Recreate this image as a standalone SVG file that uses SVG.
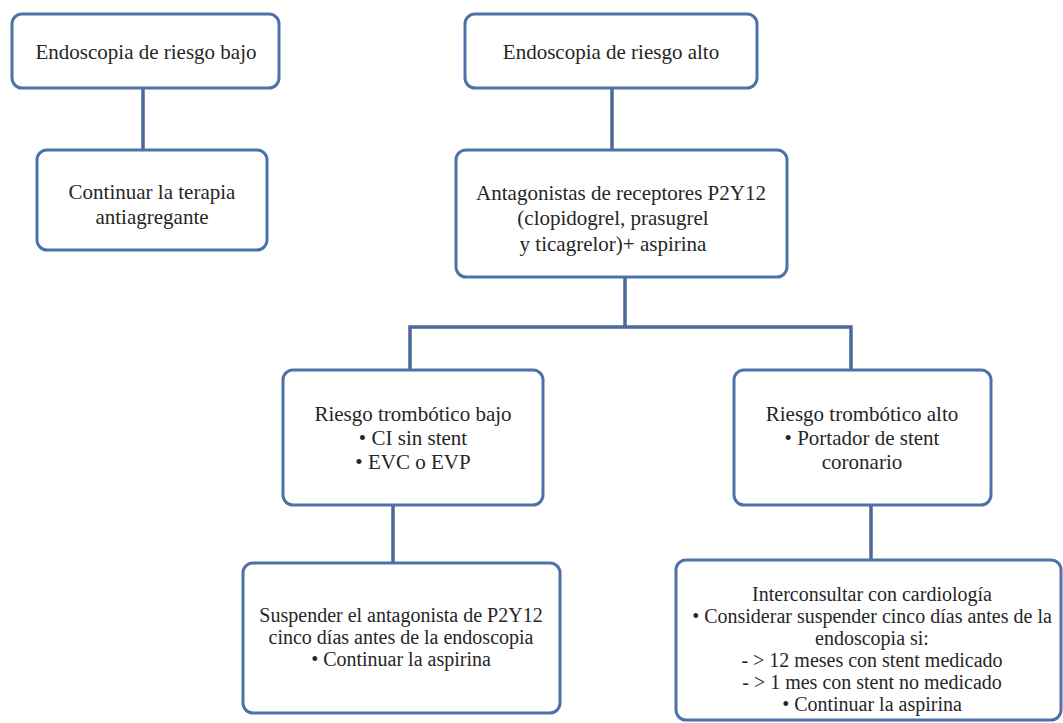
<svg xmlns="http://www.w3.org/2000/svg" width="1063" height="723" viewBox="0 0 1063 723">
<style>
.box{fill:#ffffff;stroke:#4E72A8;stroke-width:3}
.t{font-family:"Liberation Serif","Times New Roman",serif;font-size:21px;fill:#262626;text-anchor:middle}
.s{font-size:20px}
.c{stroke:#4A6898;stroke-width:3.5;fill:none}
</style>
<rect width="1063" height="723" fill="#ffffff"/>
<g id="connectors">
<path class="c" d="M143,88 V150"/>
<path class="c" d="M612,88 V150"/>
<path class="c" d="M625,277 V327"/>
<path class="c" d="M410,370 V327 H851 V370"/>
<path class="c" d="M393,505 V563"/>
<path class="c" d="M871,505 V560"/>
</g>
<g id="n1">
<rect class="box" x="12" y="14" width="267" height="74" rx="10"/>
<text class="t" x="146" y="59">Endoscopia de riesgo bajo</text>
</g>
<g id="n2">
<rect class="box" x="37" y="150" width="230" height="100" rx="10"/>
<text class="t" x="152" y="199">Continuar la terapia</text>
<text class="t" x="152" y="224">antiagregante</text>
</g>
<g id="n3">
<rect class="box" x="465" y="14" width="292" height="74" rx="10"/>
<text class="t" x="611" y="59">Endoscopia de riesgo alto</text>
</g>
<g id="n4">
<rect class="box" x="456" y="150" width="331" height="127" rx="10"/>
<text class="t" x="621" y="200">Antagonistas de receptores P2Y12</text>
<text class="t" x="613" y="225">(clopidogrel, prasugrel</text>
<text class="t" x="613" y="251">y ticagrelor)+ aspirina</text>
</g>
<g id="n5">
<rect class="box" x="283" y="370" width="260" height="135" rx="10"/>
<text class="t" x="413" y="421">Riesgo trombótico bajo</text>
<text class="t" x="413" y="445">• CI sin stent</text>
<text class="t" x="413" y="469">• EVC o EVP</text>
</g>
<g id="n6">
<rect class="box" x="734" y="370" width="257" height="135" rx="10"/>
<text class="t" x="862" y="421">Riesgo trombótico alto</text>
<text class="t" x="862" y="445">• Portador de stent</text>
<text class="t" x="862" y="469">coronario</text>
</g>
<g id="n7">
<rect class="box" x="243" y="563" width="317" height="150" rx="10"/>
<text class="t s" x="401" y="622">Suspender el antagonista de P2Y12</text>
<text class="t s" x="401" y="644">cinco días antes de la endoscopia</text>
<text class="t s" x="401" y="666">• Continuar la aspirina</text>
</g>
<g id="n8">
<rect class="box" x="676" y="560" width="385" height="160" rx="10"/>
<text class="t s" x="872" y="601">Interconsultar con cardiología</text>
<text class="t s" x="872" y="623">• Considerar suspender cinco días antes de la</text>
<text class="t s" x="872" y="645">endoscopia si:</text>
<text class="t s" x="872" y="667">- &gt; 12 meses con stent medicado</text>
<text class="t s" x="872" y="689">- &gt; 1 mes con stent no medicado</text>
<text class="t s" x="872" y="711">• Continuar la aspirina</text>
</g>
</svg>
